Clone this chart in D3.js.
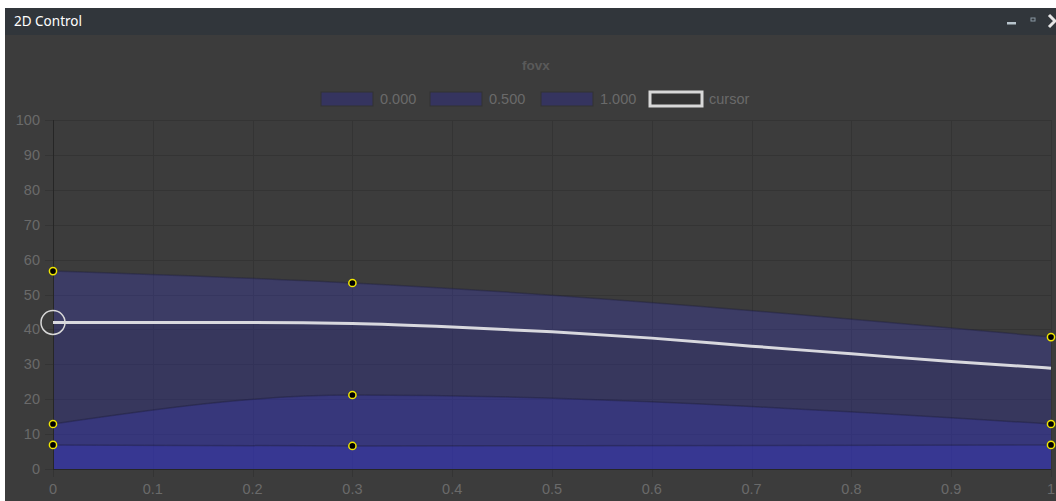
<!DOCTYPE html>
<html>
<head>
<meta charset="utf-8">
<script src="https://cdn.jsdelivr.net/npm/d3@7"></script>
<style>
  html, body { margin: 0; padding: 0; background: #ffffff; overflow: hidden; }
  svg { display: block; }
</style>
</head>
<body>
<div id="chart"></div>
<script>
var width = 1056,
    height = 501;

// key x positions and the three curves (one per legend entry)
var key_x = [0, 0.3, 1];
var series_names = ["0.000", "0.500", "1.000"];
var series_values = [
  [6.9, 6.6, 6.9],
  [12.9, 21.2, 12.9],
  [56.7, 53.3, 37.8]
];

// cursor curve sampled along x
var cursor_x = [0, 0.1, 0.2, 0.3, 0.4, 0.5, 0.6, 0.7, 0.8, 0.9, 1];
var cursor_y = [42, 42, 42, 41.7, 40.7, 39.3, 37.5, 35.2, 33, 30.8, 28.9];

var x_ticks = [0, 0.1, 0.2, 0.3, 0.4, 0.5, 0.6, 0.7, 0.8, 0.9, 1];
var y_ticks = [0, 10, 20, 30, 40, 50, 60, 70, 80, 90, 100];

var plot = {left: 53, right: 1051, top: 120, bottom: 469};

var svg = d3.select("#chart").append("svg")
    .attr("width", width)
    .attr("height", height);

// panel + title bar
svg.append("rect")
    .attr("x", 5).attr("y", 8)
    .attr("width", width - 5).attr("height", height - 8)
    .attr("fill", "#3c3c3c");
svg.append("rect")
    .attr("x", 5).attr("y", 8)
    .attr("width", width - 5).attr("height", 27)
    .attr("fill", "#31363b");
svg.append("text")
    .attr("x", 14).attr("y", 26)
    .attr("fill", "#ffffff")
    .style("font-family", "'Noto Sans', 'DejaVu Sans', sans-serif")
    .style("font-size", "13.5px")
    .text("2D Control");

// window buttons
svg.append("rect").attr("x", 1007).attr("y", 22).attr("width", 9).attr("height", 2.5)
    .attr("fill", "#b8c4cc");
svg.append("rect").attr("x", 1031).attr("y", 18).attr("width", 4).attr("height", 3)
    .attr("fill", "none").attr("stroke", "#8a98a4").attr("stroke-width", 1);
svg.append("path")
    .attr("d", "M1049,15 L1055,21 L1049,27")
    .attr("fill", "none").attr("stroke", "#e6e6e6").attr("stroke-width", 3);

var x = d3.scaleLinear().domain([0, 1]).range([plot.left, plot.right]);
var y = d3.scaleLinear().domain([0, 100]).range([plot.bottom, plot.top]);

var font = "'Liberation Sans', Arial, Helvetica, sans-serif";
var label_color = "#6a6a6a";

// title
svg.append("text")
    .attr("x", 536).attr("y", 70)
    .attr("text-anchor", "middle")
    .attr("fill", "#5a5a5a")
    .style("font-family", font)
    .style("font-size", "13.5px")
    .style("font-weight", "bold")
    .text("fovx");

// grid
var grid = svg.append("g");
grid.selectAll("line.h").data(y_ticks).enter().append("line")
    .attr("x1", plot.left - 8).attr("x2", plot.right)
    .attr("y1", function (d) { return Math.round(y(d)) + 0.5; })
    .attr("y2", function (d) { return Math.round(y(d)) + 0.5; })
    .attr("stroke", "#343434").attr("stroke-width", 1);
grid.selectAll("line.v").data(x_ticks).enter().append("line")
    .attr("y1", plot.top).attr("y2", plot.bottom + 8)
    .attr("x1", function (d) { return Math.round(x(d)) + 0.5; })
    .attr("x2", function (d) { return Math.round(x(d)) + 0.5; })
    .attr("stroke", "#343434").attr("stroke-width", 1);

// areas, all from zero, stacked by transparency
var area = d3.area()
    .x(function (d, i) { return x(key_x[i]); })
    .y0(y(0))
    .y1(function (d) { return y(d); })
    .curve(d3.curveMonotoneX);
var edge = d3.line()
    .x(function (d, i) { return x(key_x[i]); })
    .y(function (d) { return y(d); })
    .curve(d3.curveMonotoneX);

var fill = "rgba(62,60,255,0.21)";
series_values.slice().reverse().forEach(function (vals) {
  svg.append("path").attr("d", area(vals)).attr("fill", fill);
});
series_values.forEach(function (vals) {
  svg.append("path").attr("d", edge(vals))
      .attr("fill", "none")
      .attr("stroke", "rgba(30,30,60,0.4)")
      .attr("stroke-width", 1.5);
});

// cursor
var cursor_area = d3.area()
    .x(function (d, i) { return x(cursor_x[i]); })
    .y0(y(0))
    .y1(function (d) { return y(d); })
    .curve(d3.curveMonotoneX);
var cursor_line = d3.line()
    .x(function (d, i) { return x(cursor_x[i]); })
    .y(function (d) { return y(d); })
    .curve(d3.curveMonotoneX);
svg.append("path").attr("d", cursor_area(cursor_y)).attr("fill", "rgba(0,0,0,0.07)");

// axes lines
svg.append("line")
    .attr("x1", plot.left + 0.5).attr("x2", plot.left + 0.5)
    .attr("y1", plot.top).attr("y2", plot.bottom)
    .attr("stroke", "#262626");
svg.append("line")
    .attr("x1", plot.left).attr("x2", plot.right)
    .attr("y1", plot.bottom + 0.5).attr("y2", plot.bottom + 0.5)
    .attr("stroke", "#262626");

svg.append("path").attr("d", cursor_line(cursor_y))
    .attr("fill", "none")
    .attr("stroke", "#d8d8de")
    .attr("stroke-width", 3);
svg.append("circle")
    .attr("cx", x(cursor_x[0])).attr("cy", y(cursor_y[0])).attr("r", 12)
    .attr("fill", "none").attr("stroke", "#d8d8d8").attr("stroke-width", 1.5);

// control points
series_values.forEach(function (vals) {
  svg.selectAll(null).data(vals).enter().append("circle")
      .attr("cx", function (d, i) { return x(key_x[i]); })
      .attr("cy", function (d) { return y(d); })
      .attr("r", 3.6)
      .attr("fill", "#000000")
      .attr("stroke", "#f0e600")
      .attr("stroke-width", 1.5);
});

// tick labels
svg.selectAll("text.ytick").data(y_ticks).enter().append("text")
    .attr("x", 40).attr("y", function (d) { return y(d) + 5; })
    .attr("text-anchor", "end")
    .attr("fill", label_color)
    .style("font-family", font).style("font-size", "14.5px")
    .text(function (d) { return d; });
svg.selectAll("text.xtick").data(x_ticks).enter().append("text")
    .attr("x", function (d) { return x(d); }).attr("y", 494)
    .attr("text-anchor", "middle")
    .attr("fill", label_color)
    .style("font-family", font).style("font-size", "14.5px")
    .text(function (d) { return d; });

// legend
var legend_items = series_names.concat(["cursor"]);
var legend_x = [321, 430, 541, 650];
var lg = svg.selectAll("g.legend").data(legend_items).enter().append("g")
    .attr("transform", function (d, i) { return "translate(" + legend_x[i] + ",92)"; });
lg.append("rect")
    .attr("width", 52).attr("height", 14)
    .attr("fill", function (d) { return d === "cursor" ? "#333333" : "#35345f"; })
    .attr("stroke", function (d) { return d === "cursor" ? "#d8d8d8" : "#323232"; })
    .attr("stroke-width", function (d) { return d === "cursor" ? 3 : 1; });
lg.append("text")
    .attr("x", 59).attr("y", 12)
    .attr("fill", label_color)
    .style("font-family", font).style("font-size", "14.5px")
    .text(function (d) { return d; });
</script>
</body>
</html>
